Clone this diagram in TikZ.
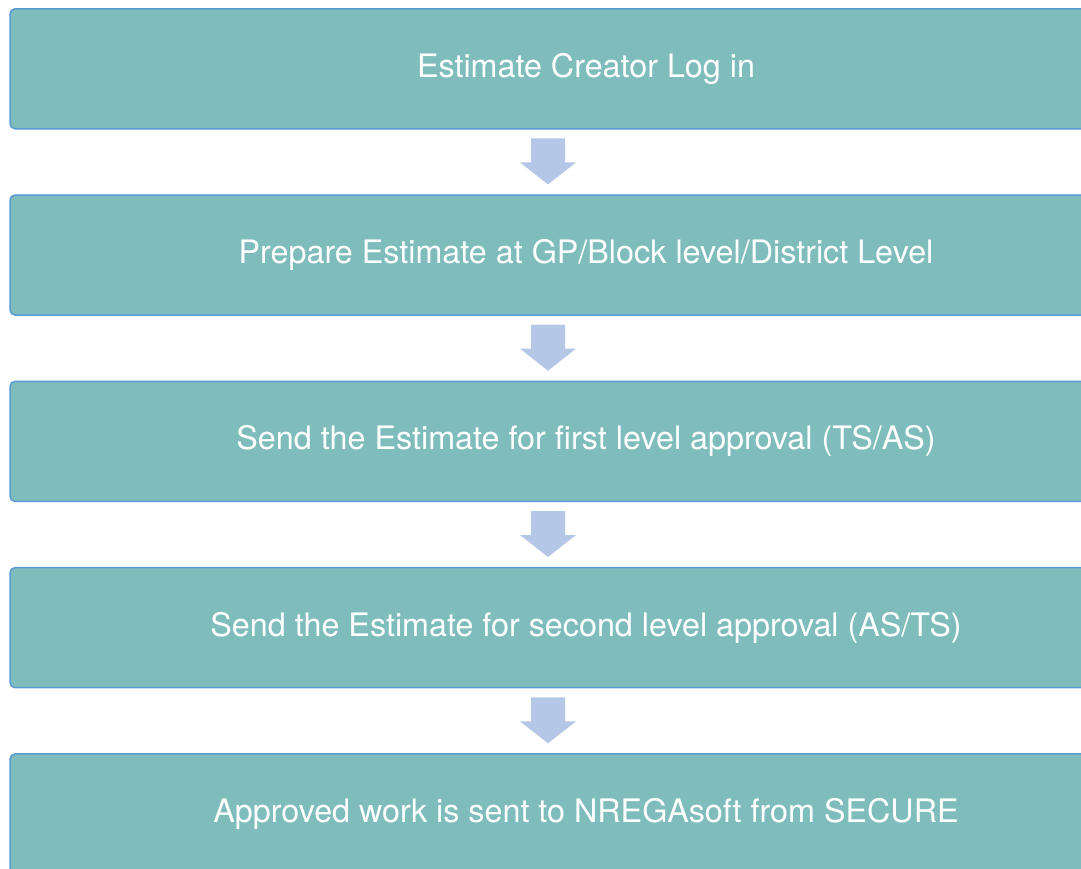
\documentclass[tikz,border=0pt]{standalone}
\usepackage{fontspec}
\setmainfont{TeX Gyre Heros}
\usetikzlibrary{calc}
\definecolor{boxfill}{HTML}{7FBCBC}
\definecolor{boxline}{HTML}{5B9BD5}
\definecolor{arrfill}{HTML}{B4C7E7}
\tikzset{
  stepbox/.style={draw=boxline, line width=1.5pt, fill=boxfill, rounded corners=5pt,
    minimum width=1152pt, minimum height=120pt, inner sep=0pt,
    text=white, font=\fontsize{32.3}{37}\selectfont, anchor=north},
  arrfillstyle/.style={fill=arrfill, draw=none}
}
\begin{document}
\begin{tikzpicture}[x=1pt,y=-1pt]
\clip (0,0) rectangle (1081,868);
\fill[white] (0,0) rectangle (1081,868);
\node[stepbox] (b1) at (586,8) {Estimate Creator Log in};
\node[stepbox] (b2) at (586,194.3) {Prepare Estimate at GP/Block level/District Level};
\node[stepbox] (b3) at (586,380.6) {Send the Estimate for first level approval (TS/AS)};
\node[stepbox] (b4) at (586,566.9) {Send the Estimate for second level approval (AS/TS)};
\node[stepbox] (b5) at (586,753.2) {Approved work is sent to NREGAsoft from SECURE};
\foreach \a/\b in {b1/b2,b2/b3,b3/b4,b4/b5}{
  \path ([xshift=-38pt]\a.south) -- ([xshift=-38pt]\b.north) coordinate[pos=0.5] (m);
  \fill[arrfillstyle] ($(m)+(-17,-23.5)$) -- ($(m)+(17,-23.5)$) -- ($(m)+(17,0.5)$)
    -- ($(m)+(28,0.5)$) -- ($(m)+(0,22.5)$) -- ($(m)+(-28,0.5)$) -- ($(m)+(-17,0.5)$) -- cycle;
}
\end{tikzpicture}
\end{document}
